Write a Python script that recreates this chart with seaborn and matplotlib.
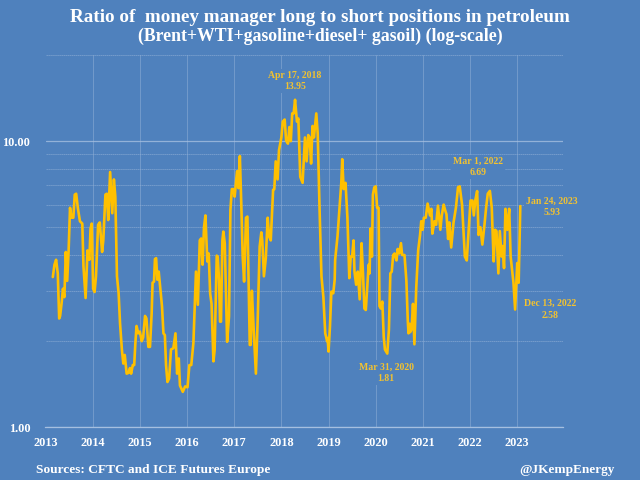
import matplotlib
matplotlib.use('Agg')
import matplotlib.pyplot as plt
import pandas as pd
import seaborn as sns
from matplotlib.ticker import FixedLocator, NullFormatter

years = [2013.155, 2013.19, 2013.225, 2013.26, 2013.29, 2013.31, 2013.345, 2013.37, 2013.40, 2013.43,
         2013.46, 2013.49, 2013.52, 2013.55, 2013.59, 2013.62, 2013.65, 2013.685, 2013.73, 2013.78,
         2013.805, 2013.85, 2013.89, 2013.93, 2013.955, 2013.98, 2014.01, 2014.04, 2014.07, 2014.115,
         2014.15, 2014.20, 2014.225, 2014.27, 2014.30, 2014.33, 2014.37, 2014.415, 2014.45, 2014.48,
         2014.515, 2014.55, 2014.58, 2014.62, 2014.65, 2014.68, 2014.72, 2014.76, 2014.79, 2014.815,
         2014.85, 2014.88, 2014.905, 2014.93, 2014.965, 2015.0, 2015.04, 2015.07, 2015.11, 2015.14,
         2015.18, 2015.215, 2015.25, 2015.27, 2015.30, 2015.32, 2015.345, 2015.37, 2015.40, 2015.43,
         2015.47, 2015.50, 2015.53, 2015.555, 2015.585, 2015.62, 2015.66, 2015.71, 2015.755, 2015.79,
         2015.825, 2015.85, 2015.91, 2015.96, 2016.01, 2016.05, 2016.09, 2016.135,
         2016.19, 2016.23, 2016.27, 2016.30, 2016.33, 2016.36, 2016.39, 2016.43, 2016.46, 2016.49,
         2016.52, 2016.56, 2016.585, 2016.63, 2016.65, 2016.68, 2016.70, 2016.72, 2016.75, 2016.77,
         2016.80, 2016.85, 2016.89, 2016.92, 2016.95, 2016.98, 2017.01, 2017.06, 2017.09, 2017.12,
         2017.15, 2017.18, 2017.21, 2017.25, 2017.28, 2017.305, 2017.33, 2017.35, 2017.375, 2017.41,
         2017.46, 2017.50, 2017.54, 2017.575, 2017.595, 2017.63, 2017.67, 2017.71, 2017.74, 2017.775,
         2017.825, 2017.85, 2017.88, 2017.92, 2017.95, 2018.0, 2018.03, 2018.07, 2018.10, 2018.14,
         2018.17, 2018.20, 2018.23, 2018.26, 2018.29, 2018.33, 2018.36, 2018.40, 2018.45, 2018.50,
         2018.535, 2018.57, 2018.60, 2018.63, 2018.66, 2018.69, 2018.74, 2018.77, 2018.81, 2018.85,
         2018.89, 2018.93, 2018.97, 2018.98, 2019.0, 2019.03, 2019.06, 2019.10, 2019.13, 2019.14,
         2019.19, 2019.22, 2019.27, 2019.29, 2019.32, 2019.36, 2019.40, 2019.44, 2019.47, 2019.50,
         2019.53, 2019.55, 2019.585, 2019.62, 2019.66, 2019.70, 2019.73, 2019.76, 2019.79, 2019.83,
         2019.85, 2019.87, 2019.89, 2019.92, 2019.94, 2019.97, 2020.0, 2020.03, 2020.06, 2020.08,
         2020.11, 2020.14, 2020.17, 2020.195, 2020.245, 2020.28, 2020.31, 2020.34, 2020.37, 2020.40,
         2020.44, 2020.465, 2020.50, 2020.535, 2020.56, 2020.61, 2020.65, 2020.68, 2020.695, 2020.72,
         2020.73, 2020.76, 2020.79, 2020.82, 2020.86, 2020.90, 2020.94, 2020.965, 2020.995, 2021.02,
         2021.06, 2021.10, 2021.15, 2021.18, 2021.20, 2021.245, 2021.28, 2021.32, 2021.37, 2021.40,
         2021.44, 2021.47, 2021.50, 2021.535, 2021.56, 2021.60, 2021.65, 2021.70, 2021.745, 2021.78,
         2021.83, 2021.89, 2021.93, 2021.97, 2022.01, 2022.05, 2022.08, 2022.11, 2022.15, 2022.18,
         2022.22, 2022.26, 2022.30, 2022.34, 2022.375, 2022.42, 2022.46, 2022.50, 2022.53, 2022.56,
         2022.60, 2022.63, 2022.67, 2022.69, 2022.72, 2022.75, 2022.79, 2022.83, 2022.86, 2022.92,
         2022.955, 2023.0, 2023.03, 2023.065]

ratios = [3.35, 3.7, 3.85, 3.45, 2.4, 2.45, 2.75, 3.05, 2.85, 4.1,
          3.25, 4.15, 5.85, 5.4, 5.4, 6.5, 6.55, 5.85, 5.25, 5.15,
          3.65, 2.83, 4.15, 3.85, 4.95, 5.15, 3.05, 2.97, 3.37, 5.1,
          5.2, 4.1, 4.5, 6.5, 6.55, 5.3, 7.8, 5.6, 7.35, 6.4,
          3.37, 2.94, 2.31, 1.86, 1.67, 1.79, 1.54, 1.55, 1.61, 1.54,
          1.65, 1.65, 1.97, 2.26, 2.13, 2.16, 2.0, 2.06, 2.45, 2.4,
          1.91, 1.91, 2.5, 3.2, 3.23, 3.87, 3.9, 3.28, 3.5, 3.1,
          2.64, 2.13, 2.1, 1.65, 1.44, 1.48, 1.87, 1.89, 2.13, 1.54,
          1.74, 1.4, 1.33, 1.39, 1.38, 1.65, 1.65, 1.97,
          3.5, 2.68, 4.5, 4.57, 3.7, 5.0, 5.5, 3.8, 4.05, 2.94,
          2.7, 1.7, 1.86, 3.98, 3.95, 3.25, 2.34, 2.34, 4.5, 4.83,
          4.4, 1.99, 2.44, 5.75, 6.8, 6.8, 6.4, 7.85, 6.85, 8.87,
          6.05, 3.95, 3.23, 5.4, 5.45, 3.19, 1.94, 1.94, 3.0, 2.25,
          1.54, 2.44, 4.28, 4.8, 4.5, 3.37, 3.9, 5.4, 4.65, 4.5,
          6.76, 6.8, 8.5, 7.35, 9.3, 10.3, 11.7, 11.9, 10.05, 9.8,
          11.2, 10.0, 12.5, 12.5, 13.95, 11.7, 12.0, 7.5, 7.15, 10.3,
          8.5, 10.5, 10.3, 8.35, 11.3, 10.3, 12.5, 10.65, 5.75, 3.37,
          2.86, 2.13, 2.0, 2.05, 1.84, 2.25, 2.98, 2.94, 3.28, 3.85,
          4.65, 5.45, 7.15, 8.65, 6.8, 7.15, 5.4, 3.32, 3.95, 3.95,
          4.5, 3.5, 3.15, 3.5, 2.8, 4.4, 3.45, 2.6, 2.57, 3.25,
          3.7, 3.45, 4.95, 3.95, 6.5, 6.9, 6.95, 5.85, 5.85, 2.65,
          2.6, 2.75, 2.07, 1.87, 1.81, 2.2, 3.45, 3.5, 4.0, 4.05,
          3.83, 4.2, 4.05, 4.4, 4.0, 4.0, 3.25, 2.35, 2.13, 2.3,
          2.15, 2.2, 2.7, 1.95, 3.1, 4.15, 4.7, 5.25, 4.9, 5.4,
          5.4, 6.05, 5.5, 5.8, 4.75, 5.25, 5.1, 5.95, 4.9, 5.5,
          6.0, 5.75, 5.55, 4.55, 5.2, 4.25, 5.2, 5.85, 6.9, 6.95,
          6.0, 3.95, 3.83, 4.9, 6.2, 6.2, 5.5, 6.2, 6.69, 4.7,
          5.0, 4.35, 5.0, 5.85, 6.55, 6.7, 5.85, 3.8, 4.9, 4.85,
          3.45, 4.85, 3.95, 4.3, 3.6, 5.8, 4.9, 5.8, 3.95, 3.2,
          2.58, 3.75, 3.2, 5.93]

year_ticks = [2013, 2014, 2015, 2016, 2017, 2018, 2019, 2020, 2021, 2022, 2023]
minor_ticks = [2, 3, 4, 5, 6, 7, 8, 9, 20]

peak_dates = ['Apr 17, 2018', 'Mar 31, 2020', 'Mar 1, 2022', 'Dec 13, 2022', 'Jan 24, 2023']
peak_years = [2018.29, 2020.245, 2022.15, 2022.955, 2023.065]
peak_values = [13.95, 1.81, 6.69, 2.58, 5.93]
peak_offsets = [(0, 19), (-1, -19), (1, 24), (35, 0), (32, -1)]

BG = '#4F81BD'
GOLD = '#FFC000'
LABEL_GOLD = '#F2C230'
GRID = '#8FAFD6'

sns.set_theme(style='white')
plt.rcParams['font.family'] = ['Liberation Serif', 'DejaVu Serif']
plt.rcParams['font.weight'] = 'bold'

data = pd.DataFrame({'year': years, 'ratio': ratios})

fig, ax = plt.subplots(figsize=(6.4, 4.8), dpi=100, facecolor=BG)
fig.subplots_adjust(left=45.5 / 640, right=563 / 640, top=1 - 55 / 480, bottom=1 - 427.3 / 480)
ax.set_facecolor(BG)

sns.lineplot(data=data, x='year', y='ratio', color=GOLD, linewidth=1.9, ax=ax, zorder=3, errorbar=None)

ax.set_yscale('log')
ax.set_xlim(2013, 2023.97)
ax.set_ylim(1, 20)
ax.set_xticks(year_ticks)
ax.set_xticklabels([str(y) for y in year_ticks])
ax.set_yticks([1, 10])
ax.set_yticklabels(['1.00', '10.00'])
ax.yaxis.set_minor_locator(FixedLocator(minor_ticks))
ax.yaxis.set_minor_formatter(NullFormatter())
ax.set_xlabel('')
ax.set_ylabel('')

ax.grid(True, which='major', axis='y', color='#A5BFE0', linewidth=0.9, alpha=0.8, zorder=1)
ax.grid(True, which='minor', axis='y', color=GRID, linewidth=0.7, alpha=0.6, linestyle=(0, (1.5, 0.5)), zorder=1)
ax.grid(True, which='major', axis='x', color=GRID, linewidth=0.7, alpha=0.55, zorder=1)
for side in ['top', 'right', 'left']:
    ax.spines[side].set_visible(False)
ax.spines['bottom'].set_color('#A5BFE0')
ax.spines['bottom'].set_linewidth(0.9)
ax.tick_params(axis='both', which='both', length=0, colors='white', labelsize=8.8)
ax.tick_params(axis='y', pad=11)
ax.tick_params(axis='x', pad=7)

# peak labels, box hides the gridlines behind the text like in the original
for d, x, v, off in zip(peak_dates, peak_years, peak_values, peak_offsets):
    ax.annotate(f'{d}\n{v:.2f}', xy=(x, v), xytext=off, textcoords='offset pixels',
                ha='center', va='center', color=LABEL_GOLD, fontsize=7, fontweight='bold',
                linespacing=1.35, zorder=4,
                bbox=dict(facecolor=BG, edgecolor='none', pad=1.5))

fig.text(0.5, 1 - 18 / 480, 'Ratio of  money manager long to short positions in petroleum',
         ha='center', va='center', color='white', fontsize=13.8, fontweight='bold')
fig.text(0.5, 1 - 36 / 480, '(Brent+WTI+gasoline+diesel+ gasoil) (log-scale)',
         ha='center', va='center', color='white', fontsize=12.8, fontweight='bold')
fig.text(36 / 640, 1 - 470 / 480, 'Sources: CFTC and ICE Futures Europe',
         ha='left', va='center', color='white', fontsize=9.6, fontweight='bold')
fig.text(615 / 640, 1 - 470 / 480, '@JKempEnergy',
         ha='right', va='center', color='white', fontsize=9.5, fontweight='bold')

fig.savefig('out.png', dpi=100, facecolor=BG)
